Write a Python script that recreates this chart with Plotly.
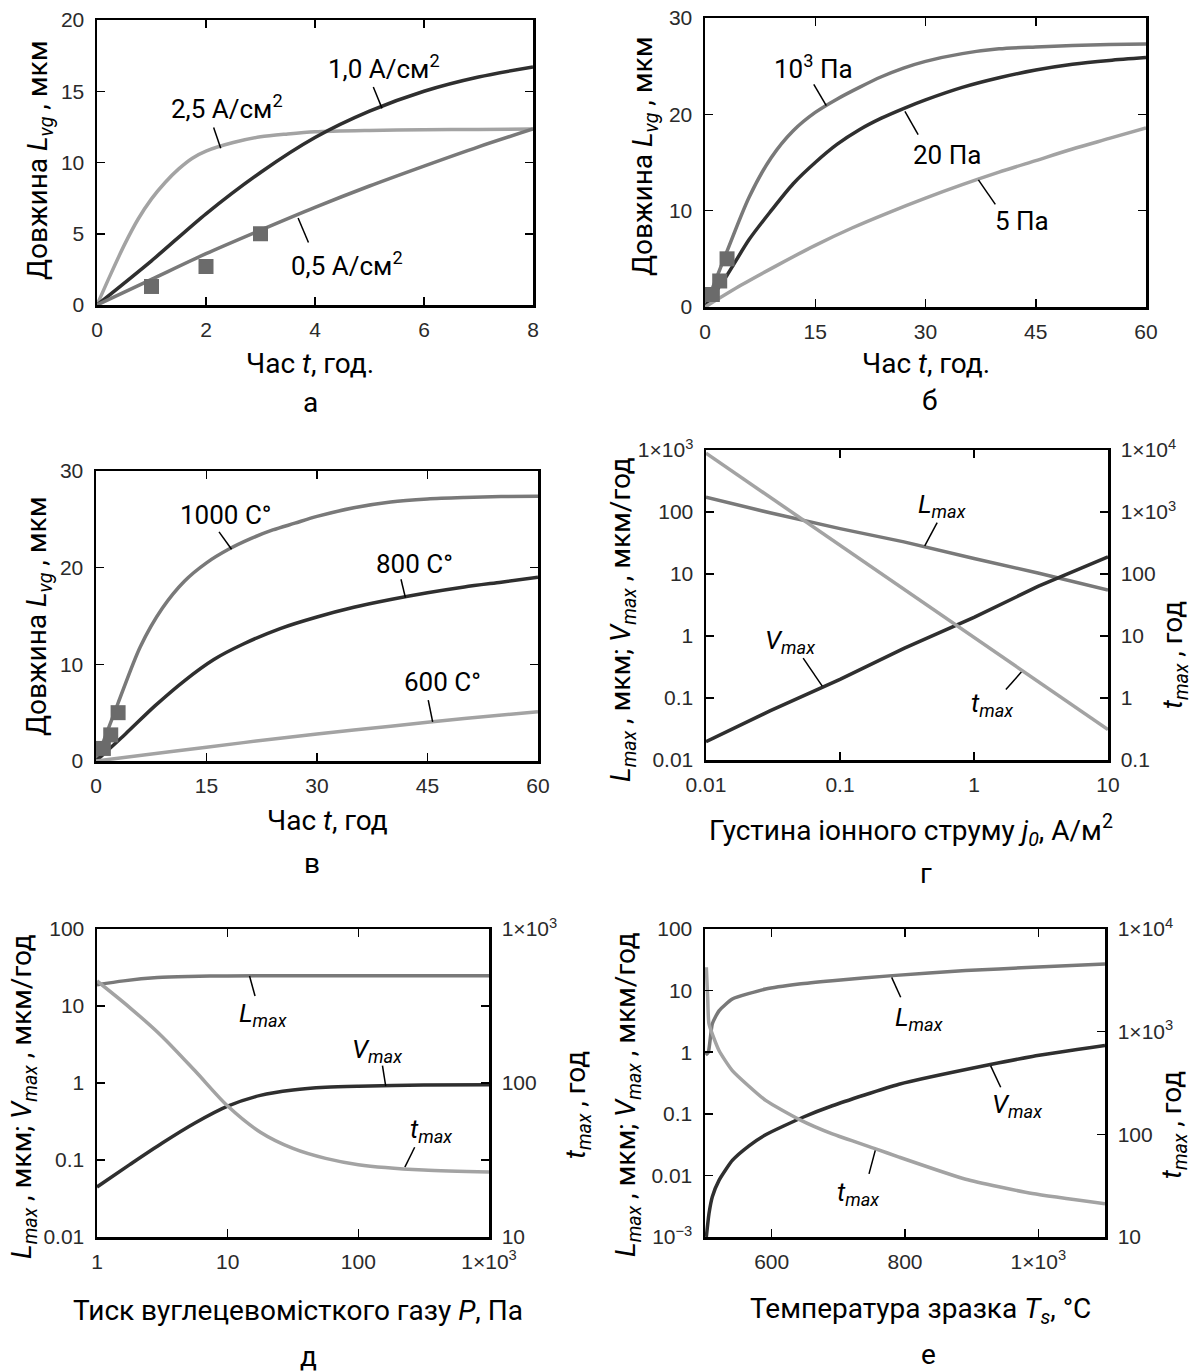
import numpy as np
import plotly.graph_objects as go

W, H = 1192, 1372

# ---------------- Panel а : L_vg(t) for ion current density ----------------
a_t_25 = [0, 0.25, 0.5, 0.75, 1, 1.25, 1.5, 1.75, 2, 2.5, 3, 3.5, 4, 5, 6, 7, 8]
a_L_25 = [0, 2.15, 4.2, 6.0, 7.45, 8.6, 9.55, 10.3, 10.8, 11.4, 11.8, 12.0, 12.15, 12.25, 12.3, 12.32, 12.35]
a_t_10 = [0, 1, 2, 3, 4, 5, 6, 7, 8]
a_L_10 = [0, 3.1, 6.4, 9.3, 11.75, 13.6, 15.0, 16.0, 16.7]
a_t_05 = [0, 1, 2, 3, 4, 5, 6, 7, 8]
a_L_05 = [0, 1.8, 3.6, 5.25, 6.85, 8.35, 9.75, 11.1, 12.35]
exp_t = [1, 2, 3]
exp_L = [1.3, 2.7, 5.0]
a_xticks = [0, 2, 4, 6, 8]
a_yticks = [0, 5, 10, 15, 20]

# ---------------- Panel б : L_vg(t) for gas pressure ----------------
b_t = [0, 3, 6, 9, 12, 15, 18, 21, 24, 27, 30, 35, 40, 45, 50, 55, 60]
b_L_1e3 = [0, 5.8, 11.4, 15.5, 18.3, 20.2, 21.6, 22.8, 23.9, 24.8, 25.5, 26.3, 26.8, 27.0, 27.15, 27.25, 27.3]
b_L_20 = [0, 3.3, 7.0, 10.0, 12.8, 15.0, 16.9, 18.4, 19.6, 20.6, 21.5, 22.8, 23.8, 24.6, 25.2, 25.6, 25.9]
b_t_5 = [0, 5, 10, 15, 20, 25, 30, 35, 40, 45, 50, 55, 60]
b_L_5 = [0, 2.3, 4.4, 6.4, 8.2, 9.8, 11.3, 12.7, 14.0, 15.2, 16.4, 17.5, 18.6]
bt_xticks = [0, 15, 30, 45, 60]
bt_yticks = [0, 10, 20, 30]

# ---------------- Panel в : L_vg(t) for temperature ----------------
c_t_1000 = [0, 3, 6, 9, 12, 15, 18, 21, 24, 27, 30, 35, 40, 45, 50, 55, 60]
c_L_1000 = [0, 6.0, 11.8, 15.8, 18.6, 20.5, 21.9, 23.0, 23.9, 24.6, 25.3, 26.2, 26.8, 27.1, 27.25, 27.35, 27.4]
c_t_800 = [0, 4, 8, 12, 16, 20, 25, 30, 35, 40, 45, 50, 55, 60]
c_L_800 = [0, 2.8, 5.7, 8.3, 10.5, 12.1, 13.7, 14.9, 15.9, 16.7, 17.4, 18.0, 18.5, 19.0]
c_t_600 = [0, 10, 20, 30, 40, 50, 60]
c_L_600 = [0, 0.95, 1.9, 2.8, 3.6, 4.4, 5.1]

# ---------------- Panel г : vs ion current density j0 ----------------
g_j = [0.01, 0.03, 0.1, 0.3, 1, 3, 10]
g_Lmax = [174, 97, 54, 33, 17.8, 10.4, 5.5]
g_Vmax = [0.0197, 0.062, 0.20, 0.63, 2.0, 6.3, 18.9]
g_tmax = [8900, 1750, 290, 57, 9.5, 1.9, 0.31]
g_xticks = [0.01, 0.1, 1, 10]
g_xtext = ['0.01', '0.1', '1', '10']
g_yticks = [0.01, 0.1, 1, 10, 100, 1000]
g_ytext = ['0.01', '0.1', '1', '10', '100', '1×10<sup>3</sup>']
g_y2ticks = [0.1, 1, 10, 100, 1000, 10000]
g_y2text = ['0.1', '1', '10', '100', '1×10<sup>3</sup>', '1×10<sup>4</sup>']

# ---------------- Panel д : vs gas pressure P ----------------
d_P_L = [1, 1.6, 2.9, 5, 10, 30, 100, 1000]
d_Lmax = [18.8, 21.2, 23.4, 24.2, 24.6, 24.7, 24.7, 24.7]
d_P = [1, 1.78, 3.16, 5.62, 10, 17.8, 31.6, 56.2, 100, 316, 1000]
d_Vmax = [0.0447, 0.087, 0.166, 0.302, 0.50, 0.69, 0.81, 0.88, 0.91, 0.94, 0.951]
d_tmax = [460, 309, 200, 120, 70.8, 47.9, 37.6, 32.4, 29.5, 27.2, 26.4]
d_xticks = [1, 10, 100, 1000]
d_xtext = ['1', '10', '100', '1×10<sup>3</sup>']
d_yticks = [0.01, 0.1, 1, 10, 100]
d_ytext = ['0.01', '0.1', '1', '10', '100']
d_y2ticks = [10, 100, 1000]
d_y2text = ['10', '100', '1×10<sup>3</sup>']

# ---------------- Panel е : vs sample temperature Ts ----------------
e_T_L = [501, 505, 511, 521, 541, 591, 641, 691, 781, 891, 991, 1100]
e_Lmax = [0.9, 1.0, 2.9, 4.7, 7.3, 10.6, 12.8, 14.5, 17.5, 21.1, 23.9, 27.1]
e_T_t = [502, 504, 506, 521, 541, 591, 641, 691, 756, 791, 891, 991, 1100]
e_tmax = [4236, 2160, 1190, 655, 418, 214, 140, 101, 72.3, 60, 36.5, 26.5, 21.1]
e_T_V = [502, 506, 511, 521, 541, 566, 591, 646, 691, 791, 928, 991, 1100]
e_Vmax = [0.001, 0.0024, 0.0045, 0.0083, 0.0175, 0.0302, 0.0457, 0.0871, 0.135, 0.302, 0.631, 0.851, 1.28]
e_xticks = [600, 800, 1000]
e_xtext = ['600', '800', '1×10<sup>3</sup>']
e_yticks = [0.001, 0.01, 0.1, 1, 10, 100]
e_ytext = ['10<sup>−3</sup>', '0.01', '0.1', '1', '10', '100']
e_y2ticks = [10, 100, 1000, 10000]
e_y2text = ['10', '100', '1×10<sup>3</sup>', '1×10<sup>4</sup>']

LIGHT, MED, DARK, SQ = '#a3a3a3', '#797979', '#2f2f2f', '#6b6b6b'
LW = 3.5
TXT = 'Roboto, Noto Sans, sans-serif'

fig = go.Figure()


def curve(x, y, color, xa, ya, shape='spline', smooth=0.8):
    fig.add_trace(go.Scatter(x=x, y=y, mode='lines', xaxis=xa, yaxis=ya,
                             line=dict(color=color, width=LW, shape=shape, smoothing=smooth),
                             hoverinfo='skip', showlegend=False))


def squares(x, y, xa, ya):
    fig.add_trace(go.Scatter(x=x, y=y, mode='markers', xaxis=xa, yaxis=ya, cliponaxis=False,
                             marker=dict(symbol='square', size=15, color=SQ, line=dict(width=0)),
                             hoverinfo='skip', showlegend=False))


annotations = []


def label(text, x, y, xa, ya, lead, xlog=False, ylog=False, size=26):
    ax = np.log10(x) if xlog else x
    ay = np.log10(y) if ylog else y
    annotations.append(dict(text=text, x=ax, y=ay, xref=xa, yref=ya, showarrow=False,
                            xanchor='center', yanchor='middle',
                            font=dict(family=TXT, size=size, color='black')))
    fig.add_trace(go.Scatter(x=[lead[0], lead[2]], y=[lead[1], lead[3]], mode='lines',
                             xaxis=xa, yaxis=ya,
                             line=dict(color='black', width=1.5), hoverinfo='skip', showlegend=False))


def ptext(text, px, py, size=28, angle=0):
    annotations.append(dict(text=text, x=px / W, y=1 - py / H, xref='paper', yref='paper',
                            showarrow=False, xanchor='center', yanchor='middle', textangle=angle,
                            font=dict(family=TXT, size=size, color='black')))


# ---- panel а
curve(a_t_25, a_L_25, LIGHT, 'x', 'y')
curve(a_t_10, a_L_10, DARK, 'x', 'y')
curve(a_t_05, a_L_05, MED, 'x', 'y')
squares(exp_t, exp_L, 'x', 'y')
label('1,0 A/см<sup>2</sup>', 5.26, 16.7, 'x', 'y', (5.07, 15.3, 5.23, 13.8))
label('2,5 A/см<sup>2</sup>', 2.38, 13.9, 'x', 'y', (2.14, 12.46, 2.27, 11.0))
label('0,5 A/см<sup>2</sup>', 4.58, 2.86, 'x', 'y', (3.69, 6.1, 3.88, 4.38))

# ---- panel б
curve(b_t, b_L_1e3, MED, 'x2', 'y2')
curve(b_t, b_L_20, DARK, 'x2', 'y2')
curve(b_t_5, b_L_5, LIGHT, 'x2', 'y2')
squares(exp_t, exp_L, 'x2', 'y2')
label('10<sup>3</sup> Па', 14.8, 24.9, 'x2', 'y2', (14.8, 23.1, 16.5, 20.9))
label('20 Па', 32.9, 15.8, 'x2', 'y2', (27.2, 20.3, 29.0, 17.9))
label('5 Па', 43.1, 8.9, 'x2', 'y2', (37.2, 13.2, 39.5, 10.65))

# ---- panel в
curve(c_t_1000, c_L_1000, MED, 'x3', 'y3')
curve(c_t_800, c_L_800, DARK, 'x3', 'y3')
curve(c_t_600, c_L_600, LIGHT, 'x3', 'y3')
squares(exp_t, exp_L, 'x3', 'y3')
label('1000 C°', 17.6, 25.5, 'x3', 'y3', (16.7, 23.7, 18.4, 21.9))
label('800 C°', 43.2, 20.4, 'x3', 'y3', (41.4, 18.8, 42.0, 16.9))
label('600 C°', 47.0, 8.2, 'x3', 'y3', (45.1, 6.3, 45.7, 4.05))

# ---- panel г
curve(g_j, g_Lmax, MED, 'x4', 'y4', 'linear')
curve(g_j, g_Vmax, DARK, 'x4', 'y4', 'linear')
curve(g_j, g_tmax, LIGHT, 'x4', 'y7', 'linear')
label('<i>L<sub>max</sub></i>', 0.579, 128, 'x4', 'y4', (0.531, 67.3, 0.429, 28.5), True, True)
label('<i>V<sub>max</sub></i>', 0.0422, 0.815, 'x4', 'y4', (0.0531, 0.44, 0.0737, 0.155), True, True)
label('<i>t<sub>max</sub></i>', 1.37, 0.078, 'x4', 'y4', (1.73, 0.137, 2.28, 0.269), True, True)

# ---- panel д
curve(d_P_L, d_Lmax, MED, 'x5', 'y5')
curve(d_P, d_Vmax, DARK, 'x5', 'y5')
curve(d_P, d_tmax, LIGHT, 'x5', 'y8')
label('<i>L<sub>max</sub></i>', 18.8, 7.8, 'x5', 'y5', (14.7, 24.5, 16.2, 13.5), True, True)
label('<i>V<sub>max</sub></i>', 138, 2.62, 'x5', 'y5', (153, 1.68, 162, 0.91), True, True)
label('<i>t<sub>max</sub></i>', 362, 0.241, 'x5', 'y5', (270, 0.1466, 227, 0.0807), True, True)

# ---- panel е
curve(e_T_L, e_Lmax, MED, 'x6', 'y6', smooth=0.5)
curve(e_T_V, e_Vmax, DARK, 'x6', 'y6', smooth=0.5)
curve(e_T_t, e_tmax, LIGHT, 'x6', 'y9', smooth=0.5)
label('<i>L<sub>max</sub></i>', 821, 3.48, 'x6', 'y6', (780, 16.4, 793.5, 7.8), False, True)
label('<i>V<sub>max</sub></i>', 968.5, 0.136, 'x6', 'y6', (928.5, 0.6, 943.5, 0.27), False, True)
label('<i>t<sub>max</sub></i>', 730, 0.00505, 'x6', 'y6', (756, 0.027, 746, 0.0106), False, True)

# ---- titles and panel letters
LV = 'Довжина <i>L<sub>vg</sub></i> , мкм'
LVT = '<i>L<sub>max</sub></i> , мкм; <i>V<sub>max</sub></i> , мкм/год'
TT = '<i>t<sub>max</sub></i> , год'
ptext('Час <i>t</i>, год.', 310, 363)
ptext('а', 310, 403)
ptext(LV, 40, 161, angle=-90)
ptext('Час <i>t</i>, год.', 926, 363)
ptext('б', 930, 400)
ptext(LV, 645, 157, angle=-90)
ptext('Час <i>t</i>, год', 327, 820)
ptext('в', 312, 863)
ptext(LV, 38, 617, angle=-90)
ptext('Густина іонного струму <i>j<sub>0</sub></i>, А/м<sup>2</sup>', 911, 830)
ptext('г', 926, 873)
ptext(LVT, 623, 620, angle=-90)
ptext(TT, 1174, 655, angle=-90)
ptext('Тиск вуглецевомісткого газу <i>P</i>, Па', 298, 1310)
ptext('д', 309, 1356)
ptext(LVT, 23, 1097, angle=-90)
ptext(TT, 577, 1105, angle=-90)
ptext('Температура зразка <i>T<sub>s</sub></i>, °C', 920, 1310)
ptext('е', 928, 1354)
ptext(LVT, 627, 1094, angle=-90)
ptext(TT, 1173, 1125, angle=-90)


def xd(a, b):
    return [a / W, b / W]


def yd(a, b):
    return [1 - b / H, 1 - a / H]


tickfont = dict(family='Liberation Sans, Arial, sans-serif', size=21, color='#2a2a2a')
base = dict(showline=True, linecolor='black', linewidth=2.5, ticks='inside', ticklen=8,
            tickwidth=1.5, tickcolor='black', showgrid=False, zeroline=False,
            tickfont=tickfont, fixedrange=True, automargin=False)
xb = dict(base, ticklabelstandoff=4)
yb = dict(base, ticklabelstandoff=6)

layout_axes = dict(
    xaxis=dict(xb, domain=xd(97, 533), range=[0, 8], tickvals=a_xticks, anchor='y', mirror='ticks'),
    yaxis=dict(yb, domain=yd(20, 305), range=[0, 20], tickvals=a_yticks, anchor='x', mirror='ticks'),
    xaxis2=dict(xb, domain=xd(705, 1146), range=[0, 60], tickvals=bt_xticks, anchor='y2', mirror='ticks'),
    yaxis2=dict(yb, domain=yd(18, 307), range=[0, 30], tickvals=bt_yticks, anchor='x2', mirror='ticks'),
    xaxis3=dict(xb, domain=xd(96, 538), range=[0, 60], tickvals=bt_xticks, anchor='y3', mirror='ticks'),
    yaxis3=dict(yb, domain=yd(471, 761), range=[0, 30], tickvals=bt_yticks, anchor='x3', mirror='ticks'),
    xaxis4=dict(xb, domain=xd(706, 1108), type='log', range=[-2, 1], tickvals=g_xticks,
                ticktext=g_xtext, anchor='y4', mirror='ticks'),
    yaxis4=dict(yb, domain=yd(450, 760), type='log', range=[-2, 3], tickvals=g_yticks,
                ticktext=g_ytext, anchor='x4'),
    yaxis7=dict(yb, type='log', range=[-1, 4], tickvals=g_y2ticks, ticktext=g_y2text,
                anchor='x4', overlaying='y4', side='right'),
    xaxis5=dict(xb, domain=xd(97, 489), type='log', range=[0, 3], tickvals=d_xticks,
                ticktext=d_xtext, anchor='y5', mirror='ticks'),
    yaxis5=dict(yb, domain=yd(929, 1237), type='log', range=[-2, 2], tickvals=d_yticks,
                ticktext=d_ytext, anchor='x5', mirror='ticks'),
    yaxis8=dict(yb, type='log', range=[1, 3], tickvals=d_y2ticks, ticktext=d_y2text,
                anchor='x5', overlaying='y5', side='right'),
    xaxis6=dict(xb, domain=xd(705, 1105), range=[500, 1100], tickvals=e_xticks,
                ticktext=e_xtext, anchor='y6', mirror='ticks'),
    yaxis6=dict(yb, domain=yd(929, 1237), type='log', range=[-3, 2], tickvals=e_yticks,
                ticktext=e_ytext, anchor='x6'),
    yaxis9=dict(yb, type='log', range=[1, 4], tickvals=e_y2ticks, ticktext=e_y2text,
                anchor='x6', overlaying='y6', side='right'),
)

fig.update_layout(template='none', width=W, height=H,
                  margin=dict(l=0, r=0, t=0, b=0, pad=0, autoexpand=False),
                  paper_bgcolor='white', plot_bgcolor='white', showlegend=False,
                  annotations=annotations, **layout_axes)

fig.write_html('out.html',
               config={'displayModeBar': False, 'staticPlot': True},
               post_script="document.body.style.margin='0px';"
                           "document.body.style.padding='0px';"
                           "document.body.style.overflow='hidden';")
